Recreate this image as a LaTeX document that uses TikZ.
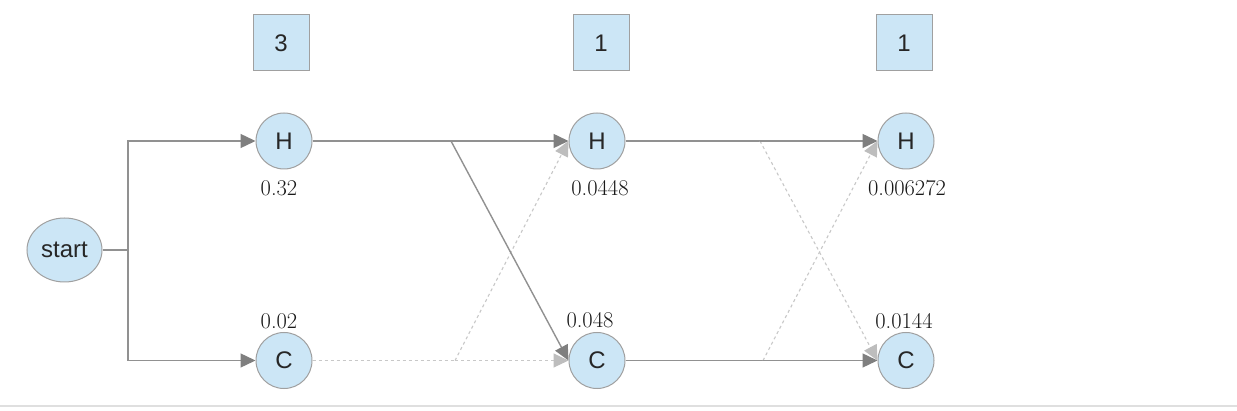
\documentclass[tikz,border=0pt]{standalone}
\usepackage{fontspec}
\newfontfamily\sansf{Liberation Sans}
\usetikzlibrary{arrows.meta,shapes.geometric}
\definecolor{nodefill}{HTML}{CCE6F6}
\definecolor{nodeedge}{HTML}{A0A0A0}
\definecolor{darkline}{HTML}{919191}
\definecolor{lightline}{HTML}{C8C8C8}
\definecolor{darktip}{HTML}{7F7F7F}
\definecolor{lighttip}{HTML}{BDBDBD}
\tikzset{
  state/.style={circle, draw=nodeedge, fill=nodefill, line width=1pt, minimum size=56pt, inner sep=0pt, font=\sansf\fontsize{24}{26}\selectfont, text=black!85},
  startnode/.style={ellipse, draw=nodeedge, fill=nodefill, line width=1pt, minimum width=75pt, minimum height=64pt, inner sep=0pt, font=\sansf\fontsize{24}{26}\selectfont, text=black!85},
  countbox/.style={rectangle, draw=nodeedge, fill=nodefill, line width=1pt, minimum size=56pt, inner sep=0pt, font=\sansf\fontsize{24}{26}\selectfont, text=black!85},
  prob/.style={font=\fontsize{22.5}{26}\selectfont, text=black!90, inner sep=0pt},
  solidarr/.style={draw=darkline, line width=1.4pt, -{Triangle[length=15pt,width=14pt,fill=darktip,color=darktip]}},
  solidline/.style={draw=darkline, line width=1.4pt},
  dotarr/.style={draw=lightline, line width=1.1pt, dash pattern=on 3pt off 3pt, -{Triangle[length=15pt,width=14pt,fill=lighttip,color=lighttip]}},
  dotline/.style={draw=lightline, line width=1.1pt, dash pattern=on 3pt off 3pt},
}
\begin{document}
\begin{tikzpicture}[x=1pt,y=-1pt]
\useasboundingbox (0,0) rectangle (1237,411);
\fill[white] (0,0) rectangle (1237,411);
\draw[gray!25, line width=1.2pt] (0,406) -- (1237,406);

% count boxes
\node[countbox] (k1) at (281,43) {3};
\node[countbox] (k2) at (601,43) {1};
\node[countbox] (k3) at (904,43) {1};

% states
\node[startnode] (start) at (64.5,250) {start};
\node[state] (H1) at (284,141) {H};
\node[state] (C1) at (284,360.5) {C};
\node[state] (H2) at (597,141) {H};
\node[state] (C2) at (597,360.5) {C};
\node[state] (H3) at (906,141) {H};
\node[state] (C3) at (906,360.5) {C};

% probabilities
\node[prob] (p1) at (279,188) {0.32};
\node[prob] (q1) at (279,321) {0.02};
\node[prob] (p2) at (600,188) {0.0448};
\node[prob] (q2) at (590,320) {0.048};
\node[prob] (p3) at (907,188) {0.006272};
\node[prob] (q3) at (904,321) {0.0144};

% branch points
\coordinate (b0) at (128,250);
\coordinate (bh1) at (451,141);
\coordinate (bc1) at (455,360.5);
\coordinate (bh2) at (760,141);
\coordinate (bc2) at (763,360.5);

% start edges
\draw[solidarr] (start.east) -- (b0) |- (H1.west);
\draw[solidarr] (b0) |- (C1.west);

% step 1 -> 2
\draw[dotline] (C1.east) -- (bc1);
\draw[dotarr] (bc1) -- (C2.west);
\draw[dotarr] (bc1) -- (H2.west);
\draw[solidline] (H1.east) -- (bh1);
\draw[solidarr] (bh1) -- (H2.west);
\draw[solidarr] (bh1) -- (C2.west);

% step 2 -> 3
\draw[solidline] (H2.east) -- (bh2);
\draw[dotarr] (bh2) -- (C3.west);
\draw[solidline] (C2.east) -- (bc2);
\draw[dotarr] (bc2) -- (H3.west);
\draw[solidarr] (bh2) -- (H3.west);
\draw[solidarr] (bc2) -- (C3.west);
\end{tikzpicture}
\end{document}
